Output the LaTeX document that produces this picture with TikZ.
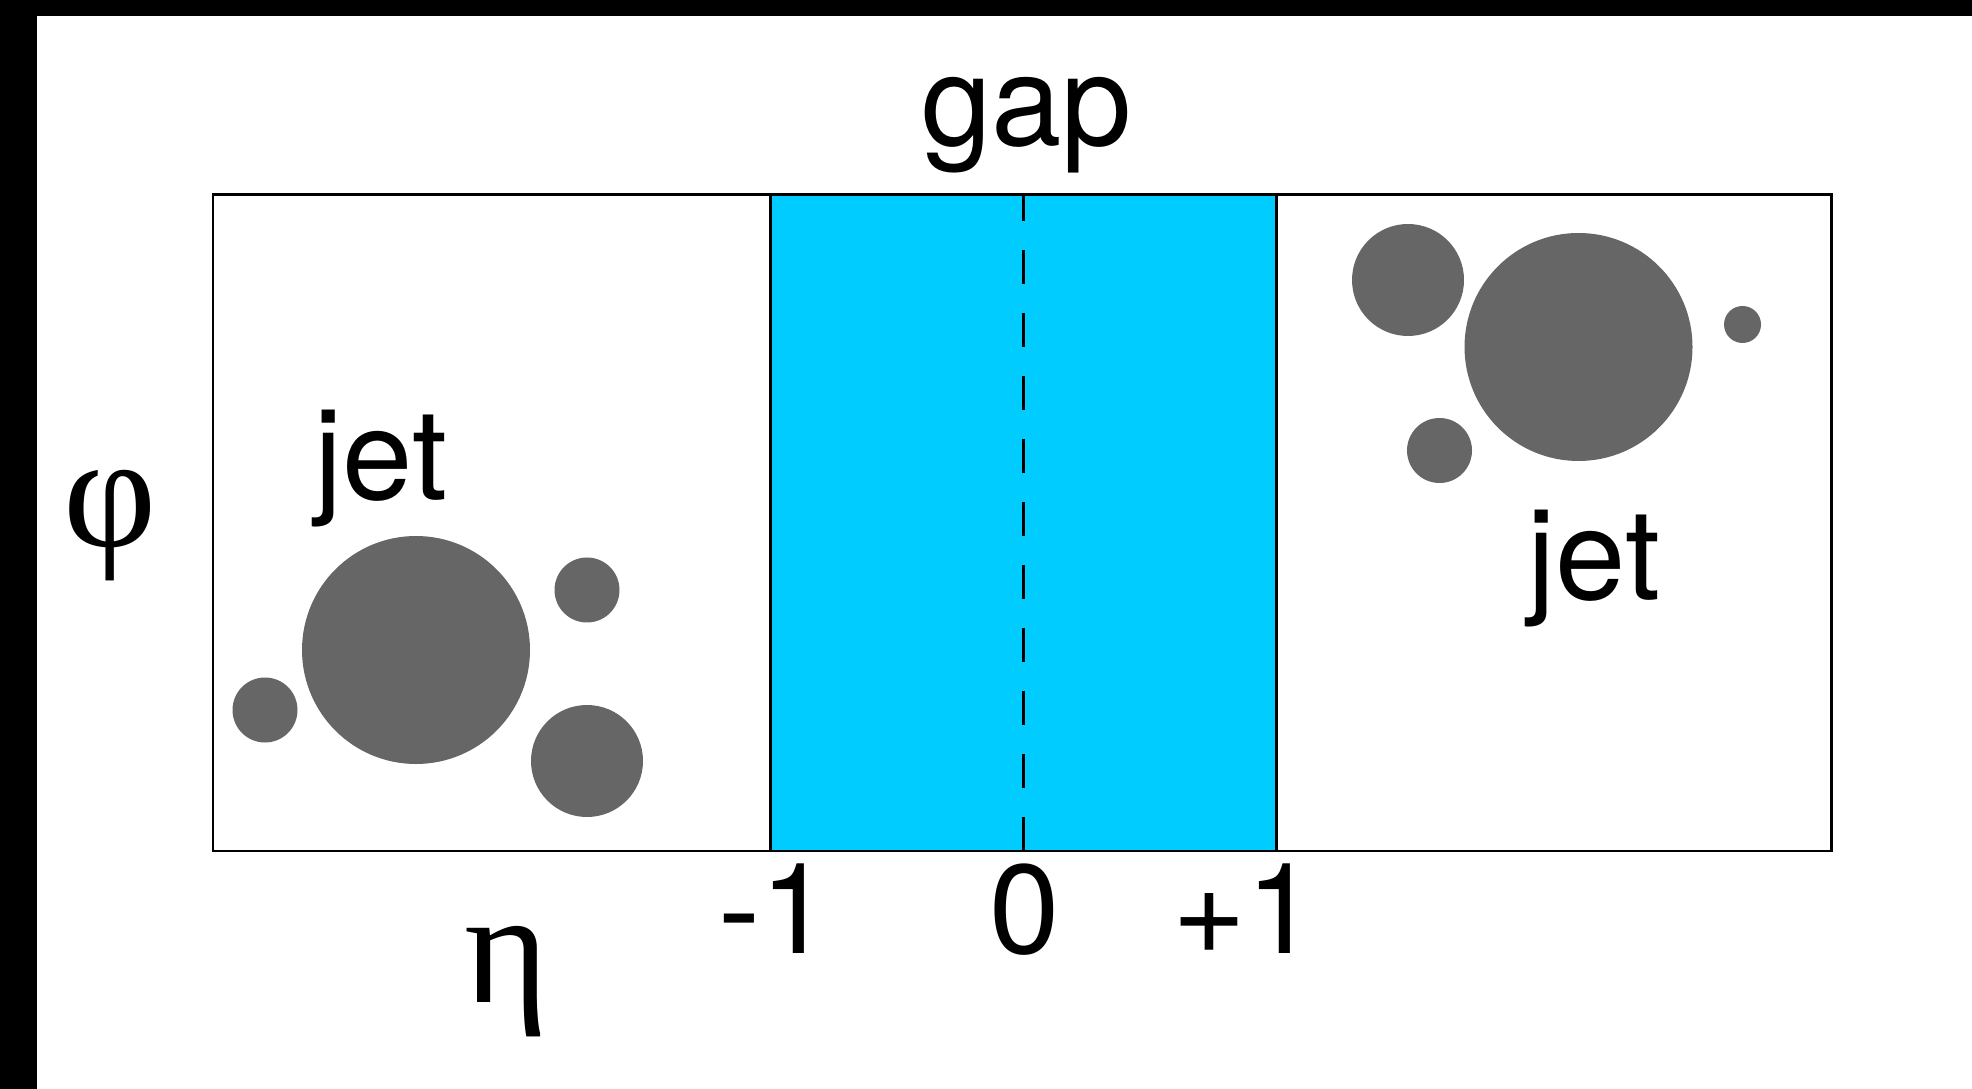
\documentclass[tikz,border=0pt]{standalone}
\usepackage{fontspec}
\setmainfont{TeX Gyre Heros}
\newfontfamily\greekfont{Liberation Serif}
\usetikzlibrary{positioning}
\definecolor{gapcyan}{RGB}{0, 204, 255}
\definecolor{jetgray}{RGB}{102, 102, 102}

\begin{document}
\begin{tikzpicture}[line width=0.85pt,
    lbl/.style={font=\fontsize{36}{40}\selectfont, inner sep=0pt, anchor=base},
    greek/.style={font=\greekfont\fontsize{46}{50}\selectfont, inner sep=0pt},
    jetblob/.style={fill=jetgray}]
        \useasboundingbox (0,0) rectangle (19.72,-10.89);
        % Frame bars (top and left)
        \fill[black] (0,0) rectangle (19.72,-0.16);
        \fill[black] (0,0) rectangle (0.37,-10.89);

        % Eta-phi plane with the rapidity gap
        \coordinate (SW) at (2.13,-8.51);
        \coordinate (NE) at (18.31,-1.95);
        \fill[gapcyan] (7.70,-8.51) rectangle (12.76,-1.95);
        \draw[dash pattern=on 3.4mm off 2.9mm] (10.23,-8.51) -- (10.23,-1.95);
        \draw (7.70,-8.51) -- (7.70,-1.95);
        \draw (12.76,-8.51) -- (12.76,-1.95);
        \draw (SW) rectangle (NE);

        % Left jet
        \fill[jetblob] (4.16,-6.50) circle (1.14);
        \fill[jetblob] (2.65,-7.10) circle (0.325);
        \fill[jetblob] (5.87,-5.90) circle (0.325);
        \fill[jetblob] (5.87,-7.61) circle (0.56);

        % Right jet
        \fill[jetblob] (15.785,-3.47) circle (1.14);
        \fill[jetblob] (14.08,-2.80) circle (0.56);
        \fill[jetblob] (14.395,-4.505) circle (0.325);
        \fill[jetblob] (17.425,-3.245) circle (0.185);

        % Labels
        \node[lbl] (gap) at (10.27,-1.46) {gap};
        \node[lbl] (jetL) at (3.81,-5.00) {jet};
        \node[lbl] (jetR) at (15.94,-6.00) {jet};
        \node[lbl] (tickL) at (7.75,-9.53) {-1};
        \node[lbl] (tickC) at (10.25,-9.53) {0};
        \node[lbl] (tickR) at (12.45,-9.53) {+1};
        \node[greek] (phi) at (1.10,-5.26) {φ};
        \node[greek] (eta) at (5.07,-9.82) {η};
\end{tikzpicture}
\end{document}
